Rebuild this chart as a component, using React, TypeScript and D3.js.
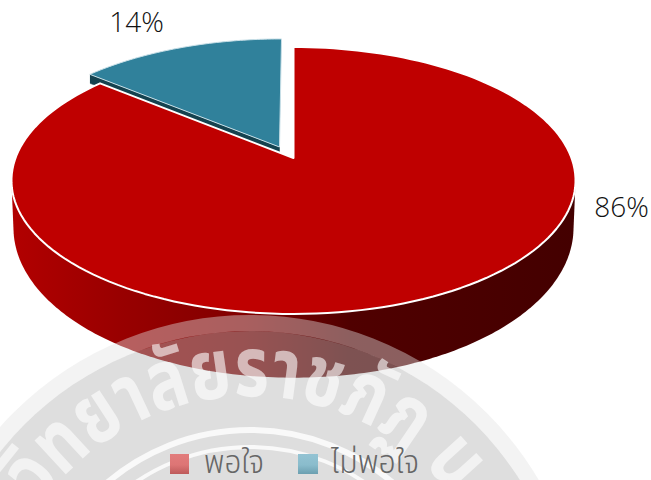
import React from "react";
import * as d3 from "d3";

const categories = ["พอใจ", "ไม่พอใจ"];
const values = [86, 14];
const labels = ["86%", "14%"];
const W = 651, H = 480;

const apex = { x: 293.5, y: 158 };
const k = -0.1685, topA = 278, topB = 129.7;
const lowA = 276, lowB = 138, lowD = 44.7;

type P = [number, number];
const project = (X: number, Y: number, a = topA, b = topB, d = 0): P => {
  const w = 1 + k * Y;
  return [apex.x + (a * X) / w, apex.y + (b * Y + d) / w];
};
const rimPoint = (t: number, ex = 0, ey = 0, a = topA, b = topB, d = 0): P =>
  project(Math.sin(t) + ex, -Math.cos(t) + ey, a, b, d);

const pie = d3.pie<number>().sort(null).startAngle(0).endAngle(2 * Math.PI);
const arcs = pie(values);
const line = d3.line<P>().curve(d3.curveLinear);

const sample = (a0: number, a1: number, n = 160) => d3.range(n + 1).map((i) => a0 + ((a1 - a0) * i) / n);

const red = arcs[0];
const blue = arcs[1];
const redTop: P[] = [[apex.x, apex.y], ...sample(red.startAngle, red.endAngle).map((t) => rimPoint(t))];

const mid = (blue.startAngle + blue.endAngle) / 2;
const ex = Math.sin(mid) * 0.12, ey = -Math.cos(mid) * 0.095;
const blueApex = project(ex, ey);
const blueTop: P[] = [blueApex, ...sample(blue.startAngle, blue.endAngle, 60).map((t) => rimPoint(t, ex, ey))];
const blueLeft = rimPoint(blue.startAngle, ex, ey);
const blueWall = 9;
const blueSide: P[] = [blueLeft, blueApex, [blueApex[0], blueApex[1] + blueWall], [blueLeft[0], blueLeft[1] + blueWall]];

const frontAngles = sample((92 * Math.PI) / 180, (268 * Math.PI) / 180, 200);
const hull = d3.polygonHull([
  ...frontAngles.map((t) => rimPoint(t)),
  ...frontAngles.map((t) => rimPoint(t, 0, 0, lowA, lowB, lowD)),
]) as P[];

// watermark
const sealX = 250, sealY = 650;
const rOuter = 335, rInner = 319;
const arcPath = (r: number) => `M ${sealX - r} ${sealY} A ${r} ${r} 0 0 1 ${sealX + r} ${sealY}`;
const rings = [
  { r: 220, w: 6 },
  { r: 203, w: 4 },
];

export default function App() {
  return (
    <svg width={W} height={H} viewBox={`0 0 ${W} ${H}`} style={{ position: "absolute", left: 0, top: 0, background: "#fff" }}>
      <defs>
        <linearGradient id="rim" gradientUnits="userSpaceOnUse" x1={11} x2={575} y1={0} y2={0}>
          <stop offset="0" stopColor="#b20000" />
          <stop offset="0.2" stopColor="#980000" />
          <stop offset="0.42" stopColor="#800000" />
          <stop offset="0.53" stopColor="#640000" />
          <stop offset="0.6" stopColor="#500000" />
          <stop offset="1" stopColor="#440000" />
        </linearGradient>
        <linearGradient id="swRed" x1="0" x2="0" y1="0" y2="1">
          <stop offset="0" stopColor="#e27c7c" />
          <stop offset="0.55" stopColor="#dd7575" />
          <stop offset="1" stopColor="#bd5a5a" />
        </linearGradient>
        <linearGradient id="swBlue" x1="0" x2="0" y1="0" y2="1">
          <stop offset="0" stopColor="#93c3d3" />
          <stop offset="0.55" stopColor="#8abccc" />
          <stop offset="1" stopColor="#6b9fb0" />
        </linearGradient>
        <path id="sealArc" d={arcPath(254)} />
      </defs>

      <path d={line(hull)! + "Z"} fill="url(#rim)" />
      <path d={line(blueSide)!} fill="#15424f" stroke="#15424f" strokeWidth={0.5} />
      <path d={line(blueTop)! + "Z"} fill="#30819b" stroke="#c9e0e8" strokeWidth={1} strokeLinejoin="round" />
      <path d={line(redTop)! + "Z"} fill="#bf0000" stroke="#fff" strokeWidth={2} strokeLinejoin="round" />

      <text x={136.5} y={32} textAnchor="middle" fontFamily="Open Sans, sans-serif" fontWeight={300} fontSize={28} fill="#111">{labels[1]}</text>
      <text x={621.5} y={217} textAnchor="middle" fontFamily="Open Sans, sans-serif" fontWeight={300} fontSize={28} fill="#111">{labels[0]}</text>

      <circle cx={sealX} cy={sealY} r={(rOuter + rInner) / 2} fill="none" stroke="rgb(226,226,226)" strokeOpacity={0.42} strokeWidth={rOuter - rInner} />
      <circle cx={sealX} cy={sealY} r={rInner} fill="rgb(182,182,182)" fillOpacity={0.45} />
      <text fontFamily="Noto Sans Thai, Loma, Garuda, sans-serif" fontWeight={700} fontSize={84} fill="#fff" fillOpacity={0.6}>
        <textPath href="#sealArc" startOffset="154" textLength={478} lengthAdjust="spacingAndGlyphs">วิทยาลัยราชภัฏ น</textPath>
      </text>
      {rings.map((d) => (
        <circle key={d.r} cx={sealX} cy={sealY} r={d.r} fill="none" stroke="#fff" strokeOpacity={0.8} strokeWidth={d.w} />
      ))}

      <rect x={170} y={454} width={19} height={20} fill="url(#swRed)" />
      <rect x={298} y={454} width={20} height={20} fill="url(#swBlue)" />
      <text x={204} y={473} fontFamily="Noto Sans Thai, Loma, sans-serif" fontWeight={300} fontSize={32} fill="#666" textLength={60} lengthAdjust="spacingAndGlyphs">{categories[0]}</text>
      <text x={331} y={473} fontFamily="Noto Sans Thai, Loma, sans-serif" fontWeight={300} fontSize={32} fill="#666" textLength={88} lengthAdjust="spacingAndGlyphs">{categories[1]}</text>
    </svg>
  );
}
